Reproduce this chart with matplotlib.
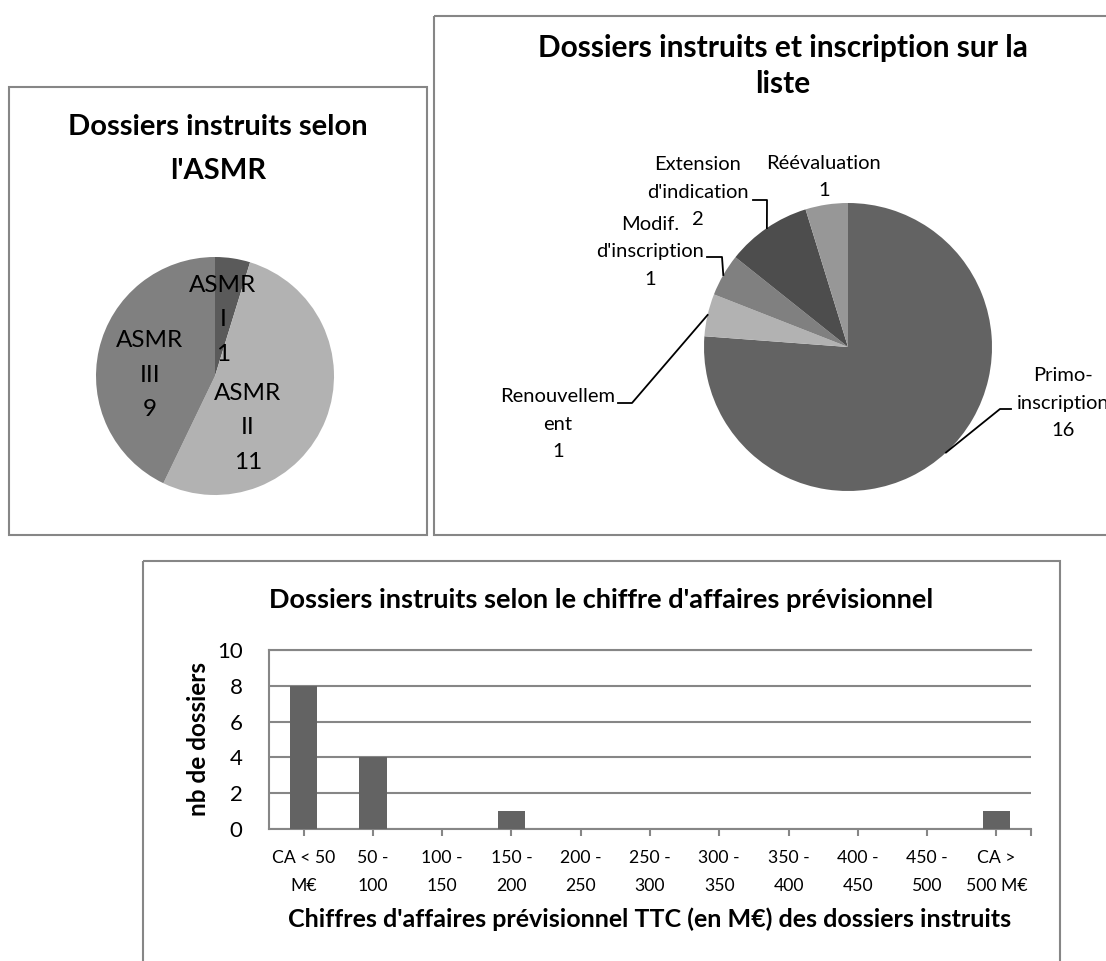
import matplotlib.pyplot as plt
from matplotlib.patches import Rectangle
import numpy as np

plt.rcParams['font.family'] = ['Lato', 'DejaVu Sans']

# Dossiers selon l'ASMR
asmr_noms = ['ASMR\nI', 'ASMR\nII', 'ASMR\nIII']
asmr_valeurs = [1, 11, 9]

# Dossiers selon le type d'inscription
inscr_noms = ['Primo-\ninscription', 'Renouvellem\nent', "Modif.\nd'inscription",
              "Extension\nd'indication", 'Réévaluation']
inscr_valeurs = [16, 1, 1, 2, 1]

# Dossiers selon le chiffre d'affaires prévisionnel
ca_tranches = ['CA < 50\nM€', '50 -\n100', '100 -\n150', '150 -\n200', '200 -\n250',
               '250 -\n300', '300 -\n350', '350 -\n400', '400 -\n450', '450 -\n500',
               'CA >\n500 M€']
ca_valeurs = [8, 4, 0, 1, 0, 0, 0, 0, 0, 0, 1]

GRIS = '#868686'
W, H = 1106, 961

fig = plt.figure(figsize=(W / 100, H / 100), dpi=100)


def boite(x0, y0, x1, y1):
    # rectangle en pixels (origine en haut a gauche) -> coordonnees figure
    return [x0 / W, 1 - y1 / H, (x1 - x0) / W, (y1 - y0) / H]


# cadres des trois graphiques
cadre = fig.add_axes([0, 0, 1, 1])
cadre.set_xlim(0, W)
cadre.set_ylim(H, 0)
cadre.axis('off')
for x0, y0, x1, y1 in [(9, 87, 427, 535), (434, 16, 1140, 535), (143, 561, 1060, 1000)]:
    cadre.add_patch(Rectangle((x0, y0), x1 - x0, y1 - y0, fill=False, ec=GRIS, lw=1.5))

cadre.text(218, 149, "Dossiers instruits selon\nl'ASMR", ha='center', va='center',
           fontsize=21, fontweight='bold', linespacing=1.9)
cadre.text(783, 66, 'Dossiers instruits et inscription sur la\nliste', ha='center',
           va='center', fontsize=21.5, fontweight='bold', linespacing=1.35)
cadre.text(601, 600, "Dossiers instruits selon le chiffre d'affaires prévisionnel",
           ha='center', va='center', fontsize=19.5, fontweight='bold')


def axes_camembert(zone, centre, rayon):
    x0, y0, x1, y1 = zone
    cx, cy = centre
    ax = fig.add_axes(boite(x0, y0, x1, y1))
    lim = ((x0 - cx) / rayon, (x1 - cx) / rayon), ((cy - y1) / rayon, (cy - y0) / rayon)
    to_data = lambda px, py: ((px - cx) / rayon, (cy - py) / rayon)
    return ax, lim, to_data


# --- camembert ASMR ---
ax1, lim1, conv1 = axes_camembert((9, 87, 427, 535), (215, 376), 119)
ax1.pie(asmr_valeurs, colors=['#5a5a5a', '#b2b2b2', '#808080'], startangle=90,
        counterclock=False, wedgeprops=dict(linewidth=0))
ax1.set_xlim(lim1[0])
ax1.set_ylim(lim1[1])
pos_asmr = [(223, 320), (248, 428), (150, 375)]
for nom, val, (px, py) in zip(asmr_noms, asmr_valeurs, pos_asmr):
    ax1.text(*conv1(px, py), f'{nom}\n{val}', ha='center', va='center',
             fontsize=17.5, linespacing=1.82)

# --- camembert inscription ---
ax2, lim2, conv2 = axes_camembert((434, 16, 1140, 535), (848, 347), 144)
parts, _ = ax2.pie(inscr_valeurs, colors=['#636363', '#b2b2b2', '#808080', '#4d4d4d', '#979797'],
                   startangle=90, counterclock=False, wedgeprops=dict(linewidth=0))
ax2.set_xlim(lim2[0])
ax2.set_ylim(lim2[1])
pos_inscr = [(1063, 403), (558, 424), (650, 252), (698, 192), (824, 177)]
# traits de rappel : depart pres du texte, coude
rappels = [((1011, 409), (1000, 409)), ((618, 403), (632, 403)),
           ((707, 257), (722, 257)), ((753, 200), (767, 200)), None]
for nom, val, (px, py), part, rap in zip(inscr_noms, inscr_valeurs, pos_inscr, parts, rappels):
    ax2.text(*conv2(px, py), f'{nom}\n{val}', ha='center', va='center',
             fontsize=14.5, linespacing=1.77)
    if rap is None:
        continue
    a = np.deg2rad((part.theta1 + part.theta2) / 2)
    (sx, sy), (ex, ey) = conv2(*rap[0]), conv2(*rap[1])
    ax2.plot([sx, ex, np.cos(a)], [sy, ey, np.sin(a)], color='black', lw=1.3, clip_on=False)

# --- histogramme chiffre d'affaires ---
ax3 = fig.add_axes(boite(269, 650, 1031, 829))
x = np.arange(len(ca_valeurs))
ax3.bar(x, ca_valeurs, width=0.4, color='#636363', zorder=3)
ax3.set_xlim(-0.5, len(ca_valeurs) - 0.5)
ax3.set_ylim(0, 10)
ax3.set_yticks(range(0, 11, 2))
ax3.yaxis.grid(True, color=GRIS, lw=1.5)
ax3.set_axisbelow(True)
ax3.spines['right'].set_visible(False)
for s in ['left', 'bottom', 'top']:
    ax3.spines[s].set_color(GRIS)
    ax3.spines[s].set_linewidth(1.5)
ax3.set_xticks(x, ca_tranches)
ax3.set_xticks([len(ca_valeurs) - 0.5], minor=True)
ax3.tick_params(axis='x', which='both', length=5, width=1.5, color=GRIS, pad=10, labelsize=12.7)
ax3.tick_params(axis='y', length=0, pad=19, labelsize=16)
for lab in ax3.get_xticklabels():
    lab.set_linespacing(1.9)
ax3.set_ylabel('nb de dossiers', fontsize=17.5, fontweight='bold')
ax3.yaxis.set_label_coords(-0.077, 0.5)
ax3.set_xlabel("Chiffres d'affaires prévisionnel TTC (en M€) des dossiers instruits",
               fontsize=18, fontweight='bold', labelpad=10)

fig.savefig('out.png', dpi=100)
